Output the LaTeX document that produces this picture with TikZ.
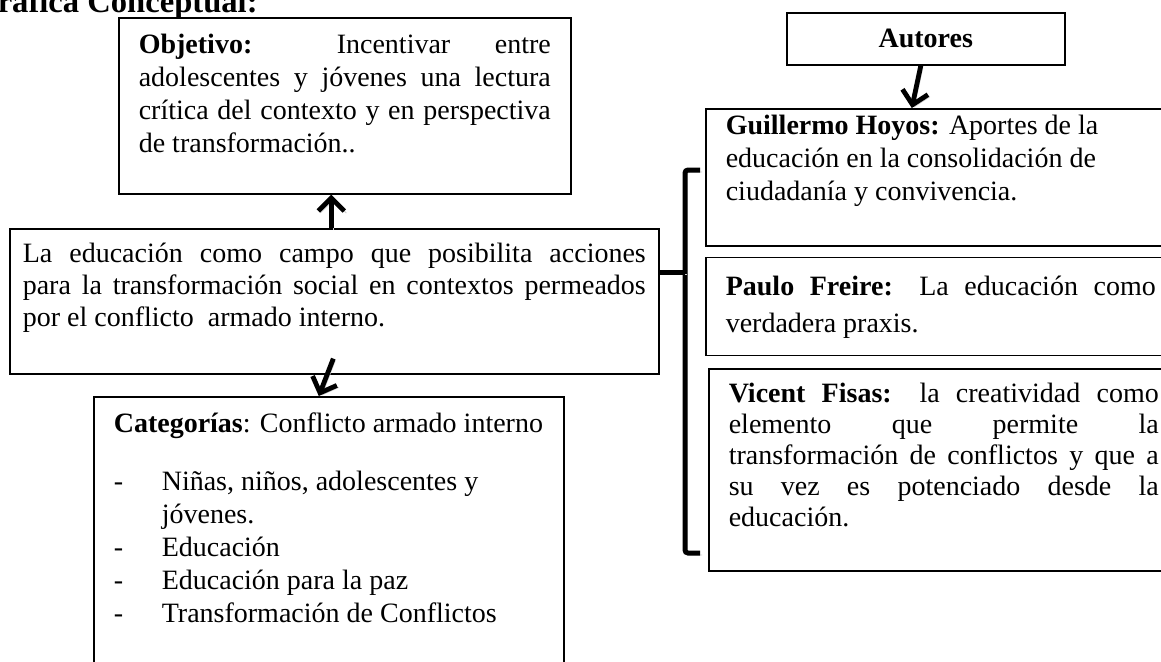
\documentclass[tikz,border=0pt]{standalone}
\usepackage{fontspec}
\setmainfont{Liberation Serif}
\usetikzlibrary{arrows.meta,positioning,calc}
\hyphenpenalty=10000
\exhyphenpenalty=10000
\newcommand{\caja}[3]{\parbox[c][#2][t]{#1}{\strut#3}}
\newcommand{\guion}{\makebox[24pt][l]{-}}

\begin{document}
\begin{tikzpicture}[x=0.5pt,y=-0.5pt,
                    box/.style={draw,line width=0.8pt,inner xsep=10pt,anchor=north west,font=\fontsize{14}{16.5}\selectfont},
                    flecha/.style={line width=2.4pt,-{Straight Barb[length=6.5pt,width=13pt]},
                                   preaction={draw=black!20,transform canvas={shift={(1pt,-1pt)}}}},
                    llave/.style={line width=2.5pt,rounded corners=1.5pt,
                                  preaction={draw=black!20,transform canvas={shift={(1pt,-1pt)}}}}]

  \path[use as bounding box,fill=white] (0,0) rectangle (1161,661);
  \clip (0,0) rectangle (1161,661);

  \node[anchor=base east,inner sep=0pt,font=\fontsize{16.3}{19}\selectfont\bfseries] (titulo) at (258,12) {Gráfica Conceptual:};

  % left column
  \node[box,inner ysep=6.5pt] (objetivo) at (118,17)
    {\caja{206pt}{75pt}{\textbf{Objetivo:} Incentivar entre\linebreak adolescentes y jóvenes una lectura\linebreak crítica del contexto y en perspectiva\linebreak de transformación..}};
  \node[box,inner xsep=6.5pt,inner ysep=5.5pt,font=\fontsize{14}{16}\selectfont] (centro) at (9,228)
    {\caja{311.5pt}{61.5pt}{La educación como campo que posibilita acciones\linebreak para la transformación social en contextos permeados\linebreak por el conflicto~ armado interno.}};
  \node[box,inner ysep=6.5pt] (categorias) at (93,396)
    {\caja{215pt}{129pt}{\raggedright\textbf{Categorías}: Conflicto armado interno\par\vspace{12.5pt}
     \guion Niñas, niños, adolescentes y\\ \hspace*{24pt}jóvenes.\\
     \guion Educación\\
     \guion Educación para la paz\\
     \guion Transformación de Conflictos}};

  % right column
  \node[draw,line width=0.8pt,anchor=north west,inner sep=0pt,minimum width=139pt,minimum height=26pt,
        font=\fontsize{14}{16.5}\selectfont\bfseries] (autores) at (786,12) {Autores};
  \node[box,inner ysep=1.5pt] (guillermo) at (705,108)
    {\caja{215pt}{65.5pt}{\raggedright\textbf{Guillermo Hoyos:} Aportes de la educación en la consolidación de ciudadanía y convivencia.}};
  \node[box,inner ysep=6pt,font=\fontsize{14}{18.5}\selectfont,below=5pt of guillermo.south west,anchor=north west] (paulo)
    {\caja{215pt}{37pt}{\textbf{Paulo Freire:} La educación como\linebreak verdadera praxis.}};
  \node[box,inner ysep=6pt,font=\fontsize{14}{15.5}\selectfont,below=6pt of paulo.south west,anchor=north west,xshift=1.5pt] (vicent)
    {\caja{215pt}{89pt}{\textbf{Vicent Fisas:} la creatividad como\linebreak elemento que permite la\linebreak transformación de conflictos y que a\linebreak su vez es potenciado desde la\linebreak educación.}};

  % arrows
  \draw[flecha] ([xshift=-1.5pt]centro.north) -- ([xshift=-1.5pt]centro.north |- objetivo.south);
  \draw[flecha] ([shift={(-1,-16)}]centro.south) -- ([xshift=-5pt]categorias.north);
  \draw[flecha] ([xshift=-2.5pt]autores.south) -- ([xshift=-14.5pt]guillermo.north);

  % bracket
  \coordinate (llaveA) at (700,170);
  \coordinate (llaveB) at (700,553);
  \coordinate (llaveM) at (685,272);
  \draw[llave] (llaveA) -- ++(-15,0) |- (llaveB);
  \draw[llave] (centro.east |- llaveM) -- (llaveM);

\end{tikzpicture}
\end{document}
